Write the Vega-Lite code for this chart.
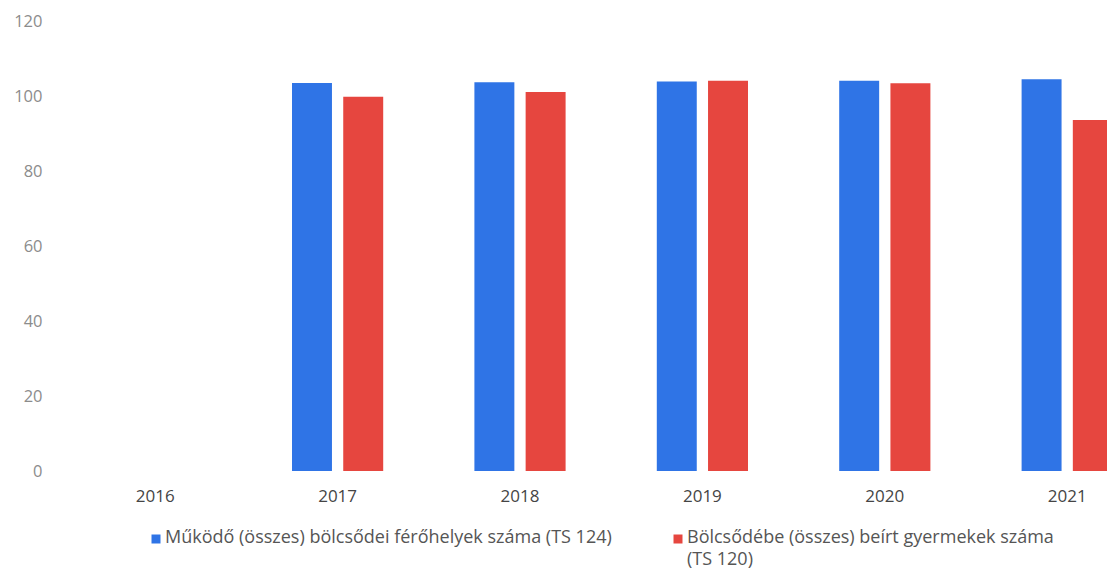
{
  "$schema": "https://vega.github.io/schema/vega-lite/v6.json",
  "width": 1043,
  "height": 450,
  "autosize": {"type": "none"},
  "padding": {"left": 64, "top": 21, "right": 0, "bottom": 101},
  "background": "white",
  "config": {"view": {"stroke": null}, "font": "Open Sans", "style": {"guide-label": {"lineHeight": 22}}},
  "data": {
    "values": [
      {"year": "2017", "series": "Működő (összes) bölcsődei férőhelyek száma (TS 124)", "value": 103.5},
      {"year": "2017", "series": "Bölcsődébe (összes) beírt gyermekek száma (TS 120)", "value": 99.8},
      {"year": "2018", "series": "Működő (összes) bölcsődei férőhelyek száma (TS 124)", "value": 103.7},
      {"year": "2018", "series": "Bölcsődébe (összes) beírt gyermekek száma (TS 120)", "value": 101.1},
      {"year": "2019", "series": "Működő (összes) bölcsődei férőhelyek száma (TS 124)", "value": 103.9},
      {"year": "2019", "series": "Bölcsődébe (összes) beírt gyermekek száma (TS 120)", "value": 104.1},
      {"year": "2020", "series": "Működő (összes) bölcsődei férőhelyek száma (TS 124)", "value": 104.1},
      {"year": "2020", "series": "Bölcsődébe (összes) beírt gyermekek száma (TS 120)", "value": 103.4},
      {"year": "2021", "series": "Működő (összes) bölcsődei férőhelyek száma (TS 124)", "value": 104.5},
      {"year": "2021", "series": "Bölcsődébe (összes) beírt gyermekek száma (TS 120)", "value": 93.6}
    ]
  },
  "mark": {"type": "bar", "clip": true},
  "encoding": {
    "x": {
      "field": "year",
      "type": "nominal",
      "scale": {
        "domain": ["2016", "2017", "2018", "2019", "2020", "2021"],
        "paddingInner": 0.5,
        "paddingOuter": 0.25,
        "range": [0, 1094.4]
      },
      "axis": {
        "title": null,
        "labelAngle": 0,
        "domain": false,
        "ticks": false,
        "labelPadding": 17,
        "labelFontSize": 17,
        "labelColor": "#454545",
        "labelFont": "Open Sans"
      }
    },
    "xOffset": {
      "field": "series",
      "type": "nominal",
      "scale": {
        "domain": ["Működő (összes) bölcsődei férőhelyek száma (TS 124)", "Bölcsődébe (összes) beírt gyermekek száma (TS 120)"],
        "paddingInner": 0.22,
        "paddingOuter": 0
      }
    },
    "y": {
      "field": "value",
      "type": "quantitative",
      "scale": {"domain": [0, 120]},
      "axis": {
        "title": null,
        "values": [0, 20, 40, 60, 80, 100, 120],
        "grid": false,
        "domain": false,
        "ticks": false,
        "labelPadding": 22,
        "labelFontSize": 16.5,
        "labelColor": "#8c8c8c",
        "labelFont": "Open Sans"
      }
    },
    "color": {
      "field": "series",
      "type": "nominal",
      "scale": {
        "domain": ["Működő (összes) bölcsődei férőhelyek száma (TS 124)", "Bölcsődébe (összes) beírt gyermekek száma (TS 120)"],
        "range": ["#2F74E6", "#E6463F"]
      },
      "legend": {
        "title": null,
        "orient": "none",
        "legendX": 83,
        "legendY": 509,
        "direction": "horizontal",
        "columns": 2,
        "columnPadding": 57,
        "symbolType": "square",
        "symbolSize": 81,
        "symbolStrokeWidth": 0,
        "symbolOffset": 0,
        "labelOffset": 0,
        "labelFontSize": 18,
        "labelColor": "#555555",
        "labelFont": "Open Sans",
        "labelLimit": 600,
        "labelBaseline": "top",
        "labelExpr": "datum.value == 'Bölcsődébe (összes) beírt gyermekek száma (TS 120)' ? ['Bölcsődébe (összes) beírt gyermekek száma', '(TS 120)'] : [datum.label, ' ']",
        "encode": {"labels": {"update": {"dy": {"value": -10}}}}
      }
    }
  }
}
